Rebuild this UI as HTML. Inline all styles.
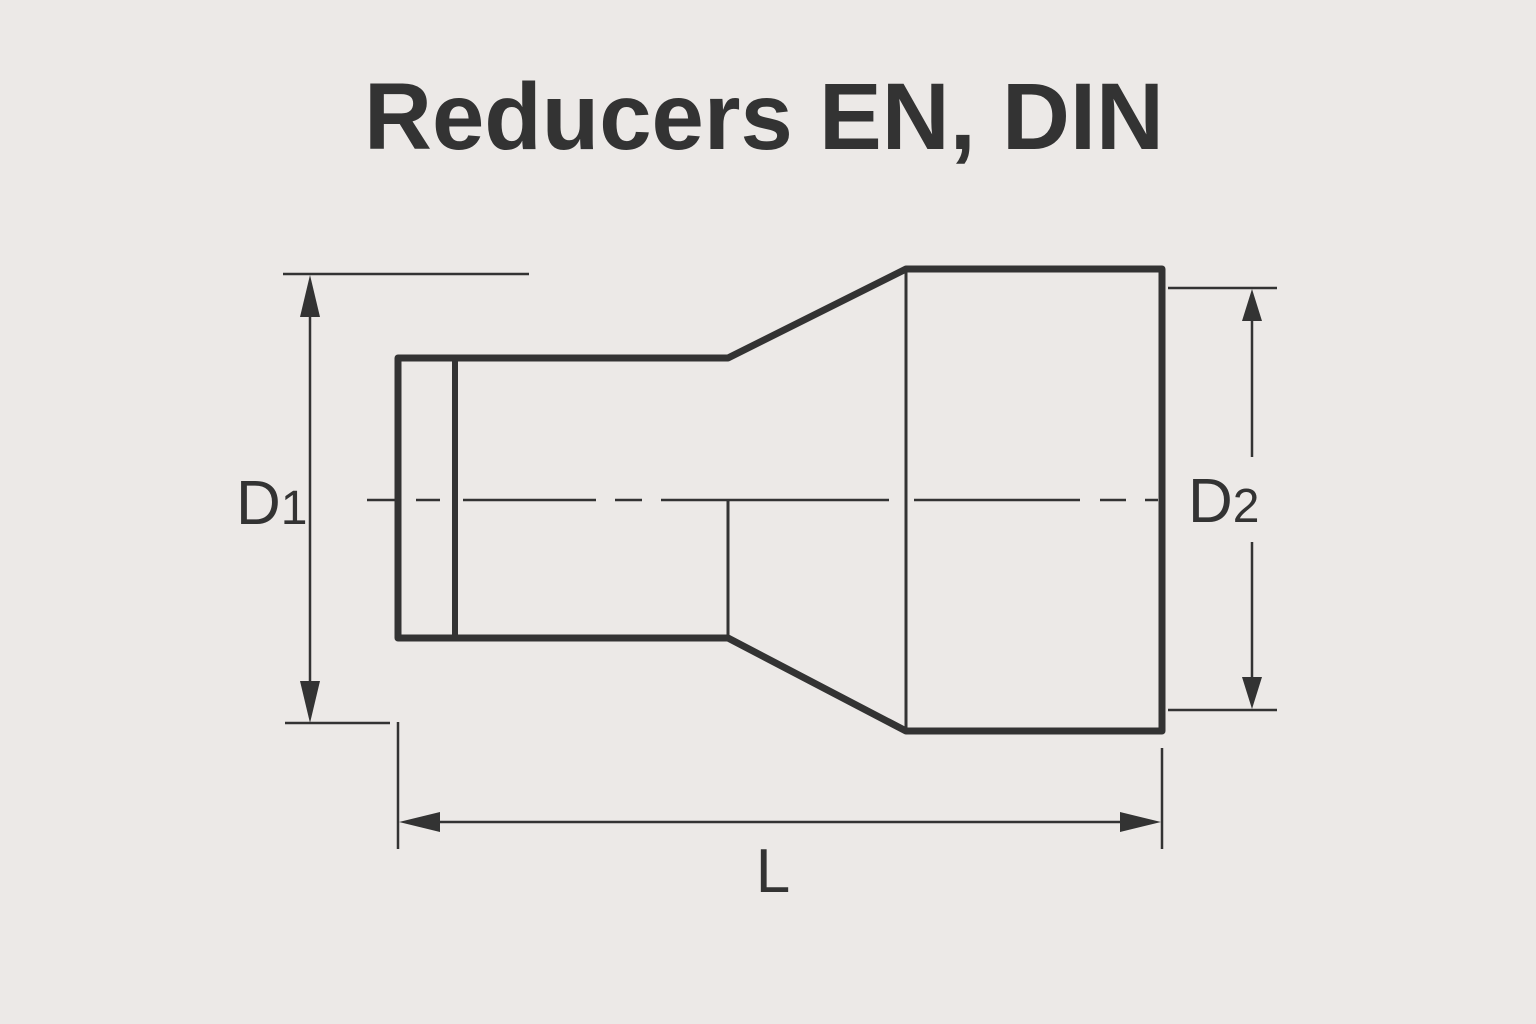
<!DOCTYPE html>
<html><head><style>
html,body{margin:0;padding:0;background:#ece9e7;}
svg{display:block}
</style></head><body>
<svg width="1536" height="1024" viewBox="0 0 1536 1024" xmlns="http://www.w3.org/2000/svg">
<rect width="1536" height="1024" fill="#ece9e7"/>
<text x="764" y="149" text-anchor="middle" font-family="Liberation Sans, sans-serif" font-weight="bold" font-size="95" textLength="800" lengthAdjust="spacingAndGlyphs" fill="#333">Reducers EN, DIN</text>
<g stroke="#333" fill="none" stroke-linejoin="round">
<path d="M398 358 H728 L906 269 H1162 V731 H906 L728 638 H398 Z" stroke-width="7"/>
<line x1="455" y1="358" x2="455" y2="638" stroke-width="6"/>
<line x1="906" y1="269" x2="906" y2="731" stroke-width="3"/>
<line x1="728" y1="500" x2="728" y2="638" stroke-width="3"/>
<g stroke-width="2.5">
<line x1="367" y1="500" x2="395" y2="500"/>
<line x1="416" y1="500" x2="440" y2="500"/>
<line x1="463" y1="500" x2="596" y2="500"/>
<line x1="615" y1="500" x2="642" y2="500"/>
<line x1="661" y1="500" x2="889" y2="500"/>
<line x1="914" y1="500" x2="1080" y2="500"/>
<line x1="1100" y1="500" x2="1126" y2="500"/>
<line x1="1145" y1="500" x2="1158" y2="500"/>
</g>
<g stroke-width="2.5">
<line x1="283" y1="274" x2="529" y2="274"/>
<line x1="285" y1="723" x2="390" y2="723"/>
<line x1="1168" y1="288" x2="1277" y2="288"/>
<line x1="1168" y1="710" x2="1277" y2="710"/>
<line x1="398" y1="722" x2="398" y2="849"/>
<line x1="1162" y1="748" x2="1162" y2="849"/>
<line x1="310" y1="300" x2="310" y2="700"/>
<line x1="1252" y1="310" x2="1252" y2="457"/>
<line x1="1252" y1="542" x2="1252" y2="690"/>
<line x1="420" y1="822" x2="1140" y2="822"/>
</g>
</g>
<g fill="#333">
<polygon points="310,275 300,317 320,317"/>
<polygon points="310,723 300,681 320,681"/>
<polygon points="1252,289 1242,321 1262,321"/>
<polygon points="1252,709 1242,677 1262,677"/>
<polygon points="399,822 440,812 440,832"/>
<polygon points="1161,822 1120,812 1120,832"/>
</g>
<g font-family="Liberation Sans, sans-serif" fill="#333">
<text x="236" y="524" font-size="62">D<tspan font-size="48">1</tspan></text>
<text x="1188" y="522" font-size="62">D<tspan font-size="48">2</tspan></text>
<text x="773" y="892" font-size="62" text-anchor="middle">L</text>
</g>
</svg>
</body></html>
